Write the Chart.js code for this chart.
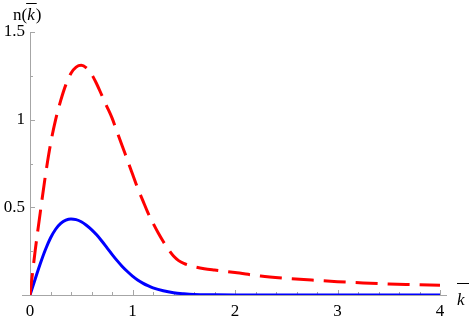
<!DOCTYPE html>
<html>
<head>
<meta charset="utf-8">
<script src="https://cdn.jsdelivr.net/npm/chart.js@4/dist/chart.umd.min.js"></script>
<style>
  body { margin: 0; background: #fff; }
  #wrap { width: 470px; height: 322px; }
</style>
</head>
<body>
<div id="wrap"><canvas id="miGrafico" width="470" height="322"></canvas></div>
<script>
// values
const blueK = [0, 0.05, 0.1, 0.15, 0.2, 0.25, 0.3, 0.35, 0.4, 0.45, 0.5, 0.55, 0.6, 0.65, 0.7, 0.75, 0.8, 0.85, 0.9, 0.95, 1.0, 1.05, 1.1, 1.15, 1.2, 1.3, 1.4, 1.5, 1.6, 1.8, 2, 2.5, 3, 3.5, 4];
const blueN = [0, 0.09, 0.178, 0.258, 0.325, 0.375, 0.408, 0.427, 0.434, 0.43, 0.418, 0.398, 0.373, 0.343, 0.308, 0.27, 0.232, 0.196, 0.163, 0.134, 0.108, 0.086, 0.068, 0.053, 0.041, 0.024, 0.013, 0.007, 0.003, 0.001, 0, 0, 0, 0, 0];

const redK = [0, 0.05, 0.1, 0.15, 0.2, 0.25, 0.3, 0.35, 0.4, 0.45, 0.5, 0.55, 0.6, 0.65, 0.7, 0.75, 0.8, 0.85, 0.9, 0.95, 1.0, 1.05, 1.1, 1.15, 1.2, 1.25, 1.3, 1.35, 1.4, 1.45, 1.5, 1.6, 1.7, 1.8, 2.0, 2.25, 2.5, 2.75, 3.0, 3.25, 3.5, 3.75, 4.0];
const redN = [0, 0.25, 0.47, 0.68, 0.86, 1.0, 1.11, 1.2, 1.265, 1.30, 1.31, 1.295, 1.26, 1.205, 1.14, 1.075, 1.01, 0.93, 0.85, 0.77, 0.69, 0.61, 0.54, 0.47, 0.41, 0.355, 0.305, 0.26, 0.222, 0.196, 0.18, 0.162, 0.15, 0.142, 0.128, 0.108, 0.095, 0.085, 0.076, 0.069, 0.063, 0.059, 0.055];

const xTickLabels = ['0', '1', '2', '3', '4'];
const yTickLabels = ['', '0.5', '1', '1.5'];

const axisGray = '#a6a6a6';
const serif = "'Liberation Serif', 'Times New Roman', serif";

const toPoints = (xs, ys) => xs.map((x, i) => ({ x: x, y: ys[i] }));

// Mathematica style axes: inside ticks, axis lines crossing at origin
const mathAxes = {
    id: 'mathAxes',
    beforeDatasetsDraw(chart) {
        const { ctx, scales: { x, y } } = chart;
        const x0 = x.getPixelForValue(0);
        const y0 = y.getPixelForValue(0);
        ctx.save();
        ctx.strokeStyle = axisGray;
        ctx.lineWidth = 1;
        ctx.beginPath();
        ctx.moveTo(x0 - 8, y0 + 0.5);
        ctx.lineTo(x.getPixelForValue(4) + 7, y0 + 0.5);
        ctx.moveTo(x0 + 0.5, y0);
        ctx.lineTo(x0 + 0.5, y.getPixelForValue(1.5));
        // x ticks
        for (let i = 0; i <= 20; i++) {
            const px = Math.round(x.getPixelForValue(i * 0.2)) + 0.5;
            const len = i % 5 === 0 ? 5 : 3;
            ctx.moveTo(px, y0);
            ctx.lineTo(px, y0 - len);
        }
        // y ticks
        for (let i = 1; i <= 6; i++) {
            const py = Math.round(y.getPixelForValue(i * 0.25)) + 0.5;
            const len = i % 2 === 0 ? 5 : 3;
            ctx.moveTo(x0, py);
            ctx.lineTo(x0 + len, py);
        }
        ctx.stroke();
        ctx.restore();
    },
    afterDraw(chart) {
        const { ctx } = chart;
        ctx.save();
        ctx.fillStyle = '#000';
        ctx.strokeStyle = '#000';
        ctx.lineWidth = 1;
        ctx.textBaseline = 'alphabetic';
        // y axis title n(k)
        ctx.font = '17px ' + serif;
        ctx.fillText('n(', 13, 20);
        let w = ctx.measureText('n(').width;
        ctx.font = 'italic 17px ' + serif;
        ctx.fillText('k', 13 + w, 20);
        const kw = ctx.measureText('k').width;
        ctx.beginPath();
        ctx.moveTo(13 + w - 1, 3.5);
        ctx.lineTo(13 + w + kw + 2, 3.5);
        ctx.stroke();
        ctx.font = '17px ' + serif;
        ctx.fillText(')', 13 + w + kw + 1, 20);
        // x axis title k
        ctx.font = 'italic 17px ' + serif;
        ctx.fillText('k', 457, 305);
        ctx.beginPath();
        ctx.moveTo(457, 283.5);
        ctx.lineTo(469, 283.5);
        ctx.stroke();
        ctx.restore();
    }
};

const ctx = document.getElementById('miGrafico').getContext('2d');
const myChart = new Chart(ctx, {
    type: 'line',
    data: {
        datasets: [
            {
                label: 'red',
                data: toPoints(redK, redN),
                borderColor: '#ff0000',
                borderWidth: 3,
                borderDash: [22, 10],
                pointRadius: 0,
                cubicInterpolationMode: 'monotone',
                fill: false
            },
            {
                label: 'blue',
                data: toPoints(blueK, blueN),
                borderColor: '#0000ff',
                borderWidth: 3,
                pointRadius: 0,
                cubicInterpolationMode: 'monotone',
                fill: false
            }
        ]
    },
    options: {
        responsive: false,
        animation: false,
        layout: { padding: { top: 32, right: 30, left: 0, bottom: 0 } },
        plugins: { legend: { display: false }, tooltip: { enabled: false } },
        scales: {
            x: {
                type: 'linear',
                min: 0,
                max: 4,
                grid: { display: false, drawTicks: false },
                border: { display: false },
                afterFit: s => { s.height = 27; },
                ticks: {
                    stepSize: 1,
                    padding: 6,
                    maxRotation: 0,
                    autoSkip: false,
                    color: '#000',
                    font: { family: serif, size: 17 },
                    callback: v => xTickLabels[Math.round(v)]
                }
            },
            y: {
                type: 'linear',
                min: 0,
                max: 1.5,
                grid: { display: false, drawTicks: false },
                border: { display: false },
                afterFit: s => { s.width = 30; },
                ticks: {
                    stepSize: 0.5,
                    padding: 5,
                    color: '#000',
                    font: { family: serif, size: 17 },
                    callback: v => yTickLabels[Math.round(v * 2)]
                }
            }
        }
    },
    plugins: [mathAxes]
});
</script>
</body>
</html>
